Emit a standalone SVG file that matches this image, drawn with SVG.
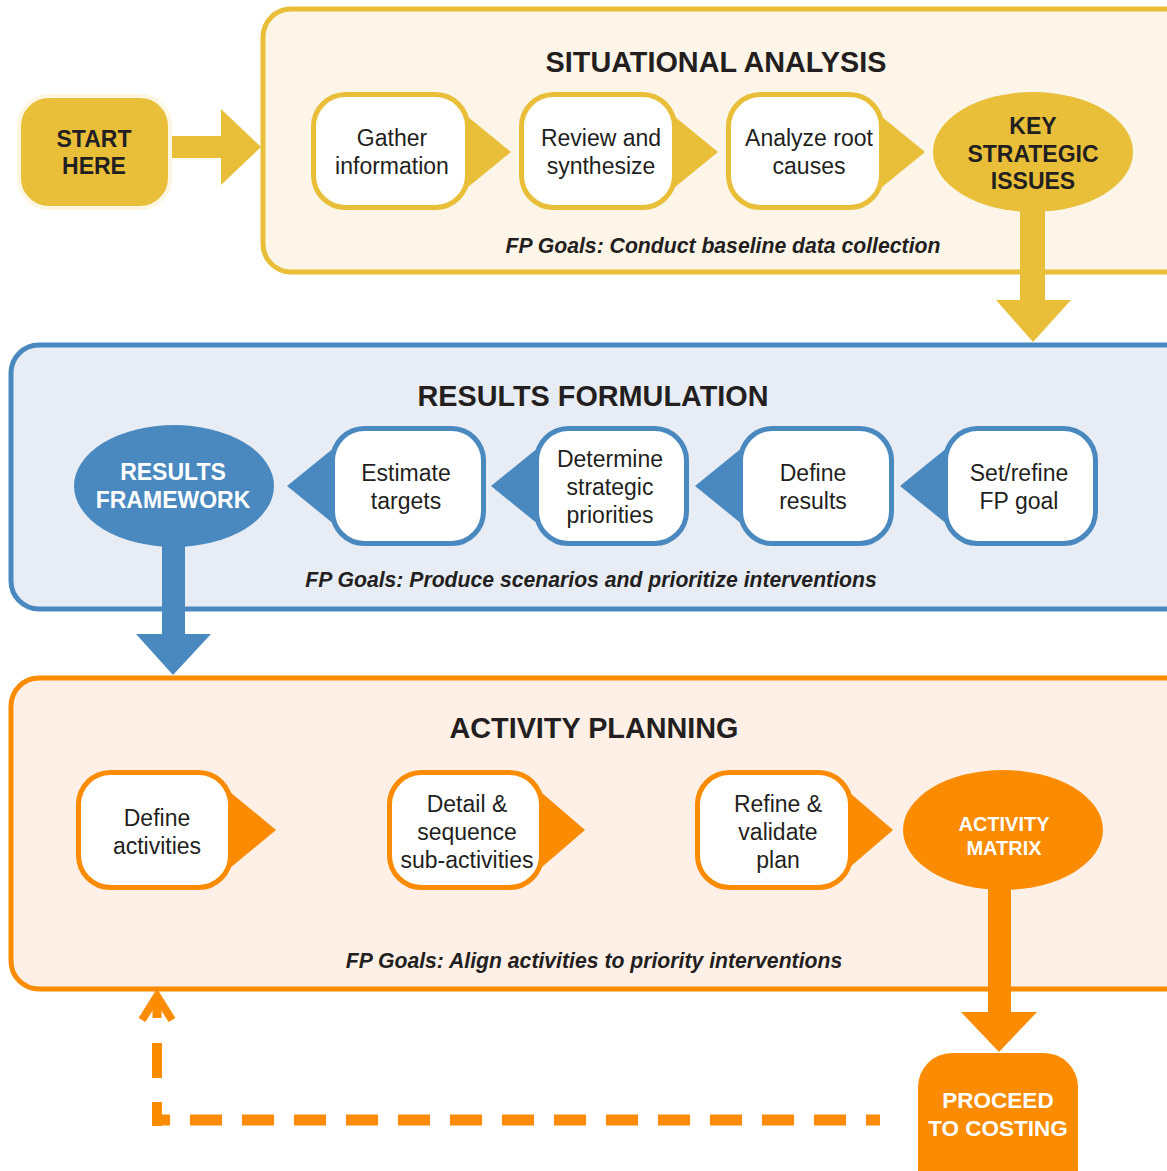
<svg xmlns="http://www.w3.org/2000/svg" width="1167" height="1171" viewBox="0 0 1167 1171">
  <style>
    text { font-family: "Liberation Sans", Arial, sans-serif; text-anchor: middle; fill: #231F20; }
    .title { font-size: 28.8px; font-weight: bold; }
    .goal { font-size: 21.2px; font-weight: bold; font-style: italic; }
    .step { font-size: 23px; }
    .hub { font-size: 23px; font-weight: bold; }
    .white { fill: #FFFFFF; }
    .y-box { fill: #FFFFFF; stroke: #E9BF3A; stroke-width: 5; }
    .b-box { fill: #FFFFFF; stroke: #4A89BF; stroke-width: 5; }
    .o-box { fill: #FFFFFF; stroke: #FB8B00; stroke-width: 5; }
    .y-fill { fill: #E9BF3A; }
    .b-fill { fill: #4A89BF; }
    .o-fill { fill: #FB8B00; }
  </style>

  <rect width="1167" height="1171" fill="#FFFFFF"/>

  <!-- Phase panels -->
  <g id="panel-situational">
    <rect x="263" y="9" width="930" height="263" rx="28" fill="#FCF5E8" stroke="#E9BF3A" stroke-width="5"/>
    <text class="title" x="716" y="72">SITUATIONAL ANALYSIS</text>
    <text class="goal" x="723" y="253">FP Goals: Conduct baseline data collection</text>
  </g>
  <g id="panel-results">
    <rect x="11" y="345" width="1182" height="264" rx="28" fill="#E8EDF5" stroke="#4A89BF" stroke-width="5"/>
    <text class="title" x="593" y="406">RESULTS FORMULATION</text>
    <text class="goal" x="591" y="587">FP Goals: Produce scenarios and prioritize interventions</text>
  </g>
  <g id="panel-activity">
    <rect x="11" y="678" width="1182" height="311" rx="28" fill="#FEF0E6" stroke="#FB8B00" stroke-width="5"/>
    <text class="title" x="594" y="738">ACTIVITY PLANNING</text>
    <text class="goal" x="594" y="968">FP Goals: Align activities to priority interventions</text>
  </g>

  <!-- Connectors -->
  <g id="connectors">
    <!-- start to situational analysis -->
    <rect class="y-fill" x="172" y="136" width="52" height="22"/>
    <polygon class="y-fill" points="221,109 261,147 221,185"/>
    <!-- key strategic issues down to results formulation -->
    <rect class="y-fill" x="1020" y="205" width="25" height="97"/>
    <polygon class="y-fill" points="996,300 1071,300 1033,342"/>
    <!-- results framework down to activity planning -->
    <rect class="b-fill" x="162" y="540" width="23" height="96"/>
    <polygon class="b-fill" points="136,634 211,634 173,675"/>
    <!-- activity matrix down to costing -->
    <rect class="o-fill" x="988" y="885" width="23" height="129"/>
    <polygon class="o-fill" points="961,1012 1037,1012 999,1052"/>
    <!-- feedback loop from costing back to activity planning -->
    <path d="M153,1120 H880" fill="none" stroke="#FB8B00" stroke-width="11" stroke-dasharray="32 20" stroke-dashoffset="15"/>
    <path d="M157,1126 V1012" fill="none" stroke="#FB8B00" stroke-width="10" stroke-dasharray="24 24 35 40"/>
    <line x1="157" y1="1002" x2="157" y2="1018" stroke="#FB8B00" stroke-width="9"/>
    <polyline points="142,1020 157,996 172,1020" fill="none" stroke="#FB8B00" stroke-width="8" stroke-linejoin="miter"/>
  </g>

  <!-- Start -->
  <g id="start-here">
    <rect x="19" y="96" width="151" height="112" rx="30" fill="#E9BF3A" stroke="#FDF6E2" stroke-width="4"/>
    <text class="hub" x="94" y="147">START</text>
    <text class="hub" x="94" y="174">HERE</text>
  </g>

  <!-- Situational analysis steps -->
  <g id="gather-information">
    <polygon class="y-fill" points="462,112 511,152 462,192"/>
    <rect class="y-box" x="313.5" y="94.5" width="154" height="113" rx="32"/>
    <text class="step" x="392" y="146">Gather</text>
    <text class="step" x="392" y="174">information</text>
  </g>
  <g id="review-synthesize">
    <polygon class="y-fill" points="669,112 718,152 669,192"/>
    <rect class="y-box" x="521.5" y="94.5" width="153" height="113" rx="32"/>
    <text class="step" x="601" y="146">Review and</text>
    <text class="step" x="601" y="174">synthesize</text>
  </g>
  <g id="analyze-root-causes">
    <polygon class="y-fill" points="876,112 925,152 876,192"/>
    <rect class="y-box" x="728.5" y="94.5" width="153" height="113" rx="32"/>
    <text class="step" x="809" y="146">Analyze root</text>
    <text class="step" x="809" y="174">causes</text>
  </g>
  <g id="key-strategic-issues">
    <ellipse class="y-fill" cx="1033" cy="152" rx="100" ry="60"/>
    <text class="hub" x="1033" y="134">KEY</text>
    <text class="hub" x="1033" y="162">STRATEGIC</text>
    <text class="hub" x="1033" y="189">ISSUES</text>
  </g>

  <!-- Results formulation steps -->
  <g id="results-framework">
    <ellipse class="b-fill" cx="174" cy="486" rx="100" ry="61"/>
    <text class="hub white" x="173" y="480">RESULTS</text>
    <text class="hub white" x="173" y="508">FRAMEWORK</text>
  </g>
  <g id="estimate-targets">
    <polygon class="b-fill" points="340,443 287,486 340,529"/>
    <rect class="b-box" x="332.5" y="428.5" width="151" height="115" rx="32"/>
    <text class="step" x="406" y="481">Estimate</text>
    <text class="step" x="406" y="509">targets</text>
  </g>
  <g id="determine-priorities">
    <polygon class="b-fill" points="544,443 491,486 544,529"/>
    <rect class="b-box" x="536.5" y="428.5" width="150" height="115" rx="32"/>
    <text class="step" x="610" y="467">Determine</text>
    <text class="step" x="610" y="495">strategic</text>
    <text class="step" x="610" y="523">priorities</text>
  </g>
  <g id="define-results">
    <polygon class="b-fill" points="748,443 695,486 748,529"/>
    <rect class="b-box" x="740.5" y="428.5" width="151" height="115" rx="32"/>
    <text class="step" x="813" y="481">Define</text>
    <text class="step" x="813" y="509">results</text>
  </g>
  <g id="set-refine-goal">
    <polygon class="b-fill" points="953,443 900,486 953,529"/>
    <rect class="b-box" x="945.5" y="428.5" width="150" height="115" rx="32"/>
    <text class="step" x="1019" y="481">Set/refine</text>
    <text class="step" x="1019" y="509">FP goal</text>
  </g>

  <!-- Activity planning steps -->
  <g id="define-activities">
    <polygon class="o-fill" points="224,787 276,830 224,873"/>
    <rect class="o-box" x="78.5" y="772.5" width="152" height="115" rx="32"/>
    <text class="step" x="157" y="826">Define</text>
    <text class="step" x="157" y="854">activities</text>
  </g>
  <g id="detail-sequence">
    <polygon class="o-fill" points="535,787 585,830 535,873"/>
    <rect class="o-box" x="389.5" y="772.5" width="152" height="115" rx="32"/>
    <text class="step" x="467" y="812">Detail &amp;</text>
    <text class="step" x="467" y="840">sequence</text>
    <text class="step" x="467" y="868">sub-activities</text>
  </g>
  <g id="refine-validate">
    <polygon class="o-fill" points="843,787 893,830 843,873"/>
    <rect class="o-box" x="697.5" y="772.5" width="153" height="115" rx="32"/>
    <text class="step" x="778" y="812">Refine &amp;</text>
    <text class="step" x="778" y="840">validate</text>
    <text class="step" x="778" y="868">plan</text>
  </g>
  <g id="activity-matrix">
    <ellipse class="o-fill" cx="1003" cy="830" rx="100" ry="60"/>
    <text class="white" x="1004" y="831" style="font-size:20px;font-weight:bold">ACTIVITY</text>
    <text class="white" x="1004" y="855" style="font-size:20px;font-weight:bold">MATRIX</text>
  </g>

  <!-- Costing -->
  <g id="proceed-to-costing">
    <rect class="o-fill" x="918" y="1053" width="160" height="150" rx="34"/>
    <text class="hub white" x="998" y="1108" style="font-size:22.5px">PROCEED</text>
    <text class="hub white" x="998" y="1136" style="font-size:22.5px">TO COSTING</text>
  </g>
</svg>
